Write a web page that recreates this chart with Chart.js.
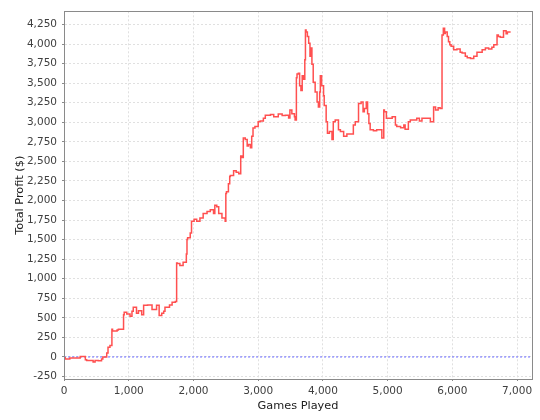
<!DOCTYPE html>
<html>
<head>
<meta charset="utf-8">
<script src="https://cdn.jsdelivr.net/npm/chart.js@4/dist/chart.umd.min.js"></script>
<style>
    html, body { margin: 0; padding: 0; background: #ffffff; }
    canvas { display: block; }
</style>
</head>
<body>
<canvas id="profit-chart" width="540" height="420"></canvas>
<script>
// ---- データ ----

const games = [
    0, 20, 90, 250, 330, 350, 450, 480, 530, 580,
    600, 660, 680, 710, 740, 750, 760, 820, 840, 920,
    930, 970, 1020, 1050, 1070, 1120, 1150, 1200, 1230, 1290,
    1360, 1430, 1470, 1510, 1540, 1560, 1630, 1670, 1720, 1740,
    1750, 1790, 1840, 1890, 1900, 1910, 1950, 1970, 2010, 2050,
    2100, 2150, 2210, 2260, 2310, 2330, 2360, 2390, 2440, 2490,
    2500, 2510, 2540, 2560, 2570, 2620, 2660, 2700, 2730, 2750,
    2770, 2800, 2830, 2850, 2880, 2900, 2920, 2950, 3000, 3030,
    3080, 3110, 3190, 3240, 3310, 3370, 3420, 3470, 3490, 3520,
    3560, 3570, 3590, 3600, 3620, 3640, 3660, 3680, 3700, 3720,
    3730, 3740, 3760, 3780, 3800, 3820, 3830, 3850, 3880, 3910,
    3930, 3950, 3960, 3980, 4010, 4020, 4050, 4070, 4100, 4140,
    4160, 4190, 4240, 4270, 4320, 4370, 4420, 4470, 4500, 4550,
    4590, 4620, 4640, 4670, 4690, 4710, 4730, 4780, 4830, 4910,
    4940, 4950, 4980, 5010, 5070, 5120, 5140, 5200, 5250, 5270,
    5320, 5350, 5450, 5490, 5530, 5550, 5660, 5710, 5740, 5780,
    5810, 5840, 5860, 5880, 5890, 5920, 5940, 5960, 5980, 6020,
    6070, 6120, 6150, 6200, 6230, 6280, 6330, 6380, 6410, 6460,
    6510, 6560, 6610, 6640, 6690, 6710, 6740, 6790, 6830, 6850,
    6900
];

const profit = [
    0, -10, -25, -15, 5, -35, -45, -65, -45, -50,
    -25, 0, 50, 125, 145, 355, 330, 330, 345, 355,
    540, 570, 550, 520, 585, 635, 560, 590, 540, 660,
    665, 605, 660, 530, 560, 585, 635, 665, 700, 710,
    1200, 1195, 1170, 1210, 1315, 1500, 1525, 1585, 1735, 1760,
    1735, 1775, 1835, 1860, 1880, 1835, 1940, 1920, 1835, 1775,
    1735, 2090, 2110, 2215, 2305, 2320, 2380, 2360, 2340, 2570,
    2550, 2800, 2780, 2695, 2715, 2675, 2820, 2925, 2945, 3005,
    3015, 3050, 3090, 3100, 3070, 3105, 3085, 3090, 3055, 3155,
    3110, 3070, 3030, 3570, 3615, 3625, 3465, 3405, 3595, 3550,
    3800, 4180, 4155, 4095, 4010, 3845, 3950, 3740, 3510, 3385,
    3260, 3195, 3385, 3595, 3465, 3340, 3215, 3005, 2860, 2880,
    2780, 3005, 3030, 2905, 2880, 2820, 2850, 2850, 2965, 3005,
    3240, 3260, 3135, 3175, 3260, 3110, 2985, 2905, 2890, 2905,
    2800, 3155, 3135, 3050, 3050, 3070, 2965, 2945, 2930, 2965,
    2910, 3005, 3030, 3050, 3015, 3050, 3050, 3005, 3195, 3155,
    3185, 3175, 4115, 4200, 4135, 4155, 4095, 4030, 3990, 3970,
    3925, 3935, 3895, 3885, 3845, 3825, 3815, 3845, 3895, 3895,
    3925, 3950, 3935, 3960, 3990, 4115, 4095, 4085, 4170, 4130,
    4155
];

const xTickValues = [0, 1000, 2000, 3000, 4000, 5000, 6000, 7000];
const yTickValues = [-250, 0, 250, 500, 750, 1000, 1250, 1500, 1750, 2000,
    2250, 2500, 2750, 3000, 3250, 3500, 3750, 4000, 4250];

const xRange = [0, 7230];
const yRange = [-282, 4418];

// ---- 描画 ----

const tickFont = { family: "'DejaVu Sans', sans-serif", size: 10.5 };
const titleFont = { family: "'DejaVu Sans', sans-serif", size: 11.3 };

const fmt = v => v.toLocaleString('en-US');

// プロット外枠
const outlinePlugin = {
    id: 'outline',
    afterDraw(chart) {
        const { ctx, chartArea: a } = chart;
        ctx.save();
        ctx.strokeStyle = '#8a8a8a';
        ctx.lineWidth = 1;
        ctx.strokeRect(Math.round(a.left) + 0.5, Math.round(a.top) + 0.5,
            Math.round(a.right - a.left), Math.round(a.bottom - a.top));
        ctx.restore();
    }
};

new Chart(document.getElementById('profit-chart'), {
    type: 'line',
    data: {
        datasets: [{
            label: 'Total Profit',
            data: games.map((g, i) => ({ x: g, y: profit[i] })),
            borderColor: '#ff5050',
            borderWidth: 1.5,
            pointRadius: 0,
            stepped: 'after',
            tension: 0,
        }, {
            label: 'zero',
            data: xRange.map(x => ({ x, y: 0 })),
            borderColor: '#6a6aff',
            borderWidth: 1,
            borderDash: [2, 2],
            pointRadius: 0,
        }],
    },
    options: {
        responsive: false,
        animation: false,
        devicePixelRatio: 1,
        layout: { padding: { top: 4, right: 8, left: 0, bottom: 0 } },
        plugins: {
            legend: { display: false },
            tooltip: { enabled: false },
        },
        scales: {
            x: {
                type: 'linear',
                min: xRange[0],
                max: xRange[1],
                afterBuildTicks: scale => { scale.ticks = xTickValues.map(v => ({ value: v })); },
                afterFit: scale => { scale.height = 41; },
                ticks: {
                    autoSkip: false,
                    maxRotation: 0,
                    padding: 4,
                    color: '#404040',
                    font: tickFont,
                    callback: v => fmt(v),
                },
                grid: {
                    color: '#e0e0e0',
                    tickLength: 2,
                    tickColor: '#8a8a8a',
                },
                border: { display: true, color: '#8a8a8a', width: 1, dash: [2, 2] },
                title: {
                    display: true,
                    text: 'Games Played',
                    color: '#202020',
                    font: titleFont,
                    padding: { top: 0, bottom: 7 },
                },
            },
            y: {
                type: 'linear',
                min: yRange[0],
                max: yRange[1],
                afterBuildTicks: scale => { scale.ticks = yTickValues.map(v => ({ value: v })); },
                afterFit: scale => { scale.width = 64; },
                ticks: {
                    autoSkip: false,
                    padding: 5,
                    color: '#404040',
                    font: tickFont,
                    callback: v => fmt(v),
                },
                grid: {
                    color: '#e0e0e0',
                    tickLength: 2,
                    tickColor: '#8a8a8a',
                },
                border: { display: true, color: '#8a8a8a', width: 1, dash: [2, 2] },
                title: {
                    display: true,
                    text: 'Total Profit ($)',
                    color: '#202020',
                    font: titleFont,
                    padding: { top: 13, bottom: 0 },
                },
            },
        },
    },
    plugins: [outlinePlugin],
});
</script>
</body>
</html>
